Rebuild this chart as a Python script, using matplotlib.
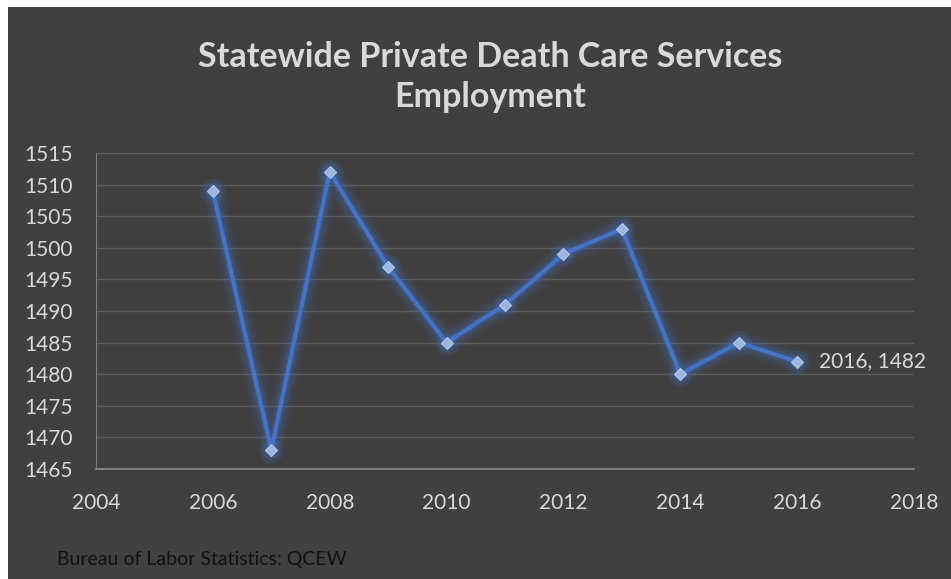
import matplotlib.pyplot as plt
import matplotlib.patches as mpatches

plt.rcParams['font.family'] = ['Lato', 'DejaVu Sans']

years = [2006, 2007, 2008, 2009, 2010, 2011, 2012, 2013, 2014, 2015, 2016]
employment = [1509, 1468, 1512, 1497, 1485, 1491, 1499, 1503, 1480, 1485, 1482]

bg = '#404040'
txt = '#d9d9d9'
line_col = '#4472c4'

fig = plt.figure(figsize=(9.51, 5.79), dpi=100)
fig.patch.set_facecolor('white')
# dark chart panel, leaving a thin white strip at top and left
fig.add_artist(mpatches.Rectangle((8 / 951, 0), 1, 1 - 7 / 579, transform=fig.transFigure,
                                  facecolor=bg, edgecolor='none', zorder=0))

ax = fig.add_axes([96 / 951, 1 - 469 / 579, (914 - 96) / 951, (469 - 153) / 579])
ax.set_facecolor('none')

# soft glow under the line
for w, a in [(18, 0.06), (13, 0.09), (9, 0.13), (6, 0.2)]:
    ax.plot(years, employment, color=line_col, lw=w, alpha=a, solid_capstyle='round',
            solid_joinstyle='round')
for x, y in zip(years, employment):
    for s, a in [(18, 0.12), (13, 0.18)]:
        ax.plot(x, y, 'o', ms=s, color=line_col, alpha=a, mec='none')
ax.plot(years, employment, color=line_col, lw=3, solid_joinstyle='round')
ax.plot(years, employment, 'D', ms=6, color='#9cb6e0', mec='#b4c7e7', mew=0.8, lw=0)

ax.annotate('%d, %d' % (years[-1], employment[-1]), (years[-1], employment[-1]),
            xytext=(16, 0), textcoords='offset points', va='center', ha='left',
            color=txt, fontsize=15)

ax.set_xlim(2004, 2018)
ax.set_ylim(1465, 1515)
ax.set_xticks(range(2004, 2019, 2))
ax.set_yticks(range(1465, 1516, 5))
ax.yaxis.grid(True, color='#5a5a5a', lw=1)
ax.set_axisbelow(True)
for s in ['top', 'right']:
    ax.spines[s].set_visible(False)
ax.spines['left'].set_color('#7f7f7f')
ax.spines['bottom'].set_color('#8c8c8c')
ax.spines['bottom'].set_linewidth(1.2)
ax.tick_params(length=0, colors=txt, labelsize=15)
ax.tick_params(axis='y', pad=17)
ax.tick_params(axis='x', pad=17)

fig.text(0.515, 1 - 57 / 579, 'Statewide Private Death Care Services', ha='center', va='center',
         color=txt, fontsize=24.5, fontweight='bold')
fig.text(0.515, 1 - 97 / 579, 'Employment', ha='center', va='center',
         color=txt, fontsize=24.5, fontweight='bold')
fig.text(57 / 951, 1 - 560 / 579, 'Bureau of Labor Statistics: QCEW', ha='left', va='center',
         color='#111111', fontsize=14)

plt.savefig('out.png', dpi=100)
